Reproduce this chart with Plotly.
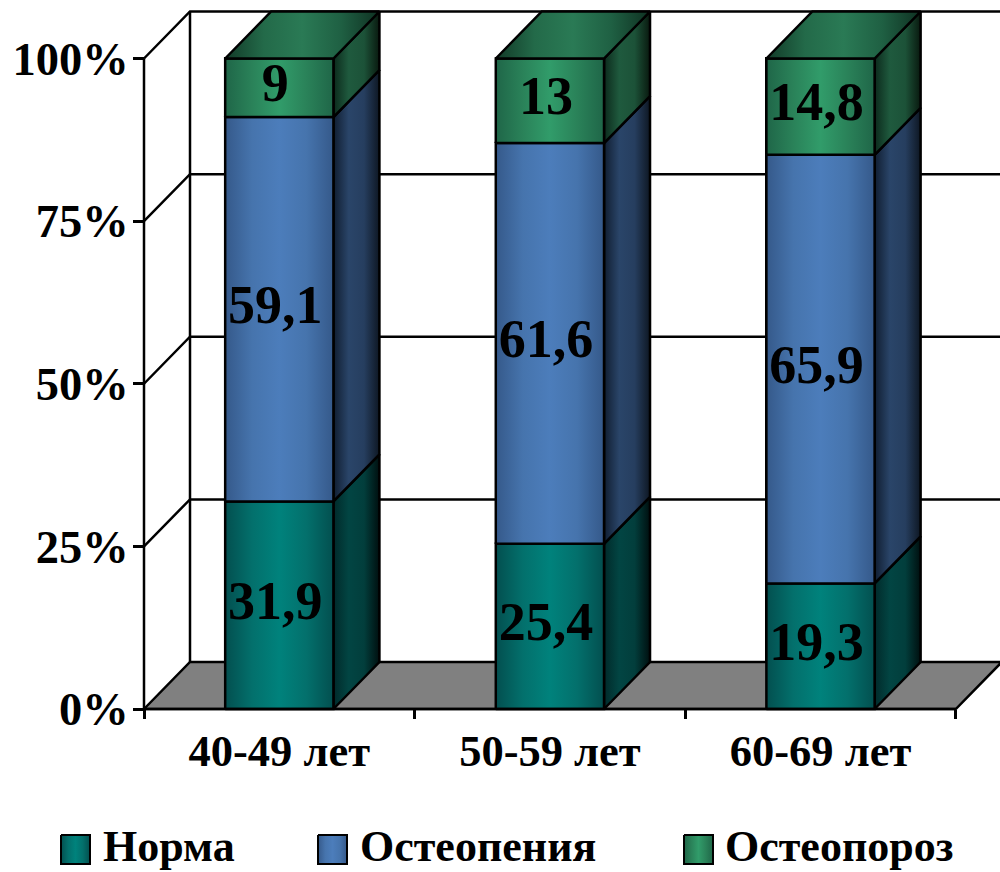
import plotly.graph_objects as go

# Chart data
categories = ["40-49 лет", "50-59 лет", "60-69 лет"]
norma = [31.9, 25.4, 19.3]
osteopenia = [59.1, 61.6, 65.9]
osteoporoz = [9, 13, 14.8]
series_names = ["Норма", "Остеопения", "Остеопороз"]
percent_ticks = [0, 25, 50, 75, 100]
percent_labels = ["0%", "25%", "50%", "75%", "100%"]

# Page geometry in pixels
W, H = 1000, 872
X0_PX, UNIT_X = 144.0, 270.6    # left end of the category axis, pixels per category
Y0_PX, UNIT_Y = 709.0, 6.505    # baseline, pixels per percentage point
BAR_W = 0.4
DX = 46 / UNIT_X                # oblique depth of the box, horizontal
DY = 47 / UNIT_Y                # oblique depth of the box, vertical
LEFT = -0.5
RIGHT = 2.5
FONT = "Liberation Serif"
LW = 2.5
LABEL_SHIFT = -4 / UNIT_X       # value labels sit slightly left of the column centre


def px_x(p):
    return LEFT + (p - X0_PX) / UNIT_X


def px_y(p):
    return (Y0_PX - p) / UNIT_Y


def ramp(*colors):
    n = len(colors) - 1
    return [[i / n, c] for i, c in enumerate(colors)]


front_ramps = [
    ramp("#034f4f", "#03706c", "#00827c", "#03706c", "#034f4f"),
    ramp("#35598a", "#4674ad", "#4c7dbb", "#4674ad", "#35598a"),
    ramp("#1f6648", "#2a8259", "#319c6a", "#2a8259", "#1f6648"),
]
side_ramps = [
    ramp("#012a2a", "#024543", "#023e3c", "#000f0f"),
    ramp("#101d30", "#2a4569", "#263e5f", "#0e1723"),
    ramp("#0c2a1c", "#1f5a3e", "#1c5238", "#09190f"),
]
top_ramp = ramp("#123a28", "#236a49", "#2a7a55", "#1f6043", "#0f3122")
solid_colors = ["#00827c", "#4c7dbb", "#319c6a"]

fig = go.Figure()
values = [norma, osteopenia, osteoporoz]


def polygon(xs, ys, colorscale=None, solid=None, width=LW):
    style = dict(
        x=xs + xs[:1], y=ys + ys[:1], mode="lines", fill="toself",
        line=dict(color="black", width=width), hoverinfo="skip", showlegend=False,
    )
    if colorscale:
        style["fillgradient"] = dict(type="horizontal", colorscale=colorscale)
    else:
        style["fillcolor"] = solid
    fig.add_trace(go.Scatter(**style))


def wire(xs, ys):
    fig.add_trace(go.Scatter(
        x=xs, y=ys, mode="lines", line=dict(color="black", width=LW),
        hoverinfo="skip", showlegend=False,
    ))


# Stacked columns supply the front faces
for name, vals, color in zip(series_names, values, solid_colors):
    fig.add_trace(go.Bar(
        x=list(range(len(categories))), y=vals, name=name, width=BAR_W,
        marker=dict(color=color, line=dict(color="black", width=LW)),
        showlegend=False,
    ))

# Floor, back wall and side wall of the box
polygon([LEFT, LEFT + DX, RIGHT + DX, RIGHT], [0, DY, DY, 0], solid="#808080")
for tick in percent_ticks[1:]:
    wire([LEFT, LEFT + DX, RIGHT + DX + 0.1], [tick, tick + DY, tick + DY])
wire([LEFT, LEFT], [0, 100])
wire([LEFT + DX, LEFT + DX], [DY, 100 + DY])

# Shaded faces of each column segment, built from the stacked values
for i in range(len(categories)):
    x1, x2 = i - BAR_W / 2, i + BAR_W / 2
    base = 0
    for s, vals in enumerate(values):
        top = base + vals[i]
        polygon([x2, x2 + DX, x2 + DX, x2], [base, base + DY, top + DY, top], side_ramps[s])
        polygon([x1, x2, x2, x1], [base, base, top, top], front_ramps[s])
        base = top
    polygon([x1, x2, x2 + DX, x1 + DX], [base, base, base + DY, base + DY], top_ramp)

# Value labels at the middle of each segment
base = [0] * len(categories)
for vals in values:
    mids = [b + v / 2 for b, v in zip(base, vals)]
    fig.add_trace(go.Scatter(
        x=[i + LABEL_SHIFT for i in range(len(categories))], y=mids, mode="text",
        text=[f"{v:g}".replace(".", ",") for v in vals],
        textposition="middle center",
        textfont=dict(family=FONT, size=54, color="black", weight="bold"),
        hoverinfo="skip", showlegend=False,
    ))
    base = [b + v for b, v in zip(base, vals)]

# Legend: gradient swatches with their captions
legend_swatch_px = [61, 318, 684]
legend_text_px = [101, 358, 723]
annotations = []
for s, name in enumerate(series_names):
    sx = legend_swatch_px[s]
    polygon(
        [px_x(sx), px_x(sx + 29), px_x(sx + 29), px_x(sx)],
        [px_y(835), px_y(835), px_y(864), px_y(864)],
        front_ramps[s], width=2,
    )
    annotations.append(dict(
        x=legend_text_px[s] / W, y=1 - 846 / H, xref="paper", yref="paper",
        text=name, showarrow=False, xanchor="left", yanchor="middle",
        font=dict(family=FONT, size=44, color="black", weight="bold"),
    ))

fig.update_layout(
    width=W, height=H,
    margin=dict(l=0, r=0, t=0, b=0),
    paper_bgcolor="white", plot_bgcolor="white",
    barmode="stack", showlegend=False,
    annotations=annotations,
    xaxis=dict(
        domain=[0, 1], range=[px_x(0), px_x(W)], anchor="free",
        position=1 - Y0_PX / H,
        tickmode="array", tickvals=[0, 1, 2], ticktext=categories,
        ticks="", showgrid=False, zeroline=False, showline=False,
        ticklabelstandoff=11,
        tickfont=dict(family=FONT, size=44.5, color="black", weight="bold"),
        minor=dict(
            tickmode="array", tickvals=[LEFT, 0.5, 1.5, 2.5], ticks="outside",
            ticklen=9, tickwidth=LW, tickcolor="black", showgrid=False,
        ),
    ),
    yaxis=dict(
        domain=[0, 1], range=[px_y(H), px_y(0)], anchor="free",
        position=X0_PX / W,
        tickmode="array", tickvals=percent_ticks, ticktext=percent_labels,
        ticks="outside", ticklen=11, tickwidth=LW, tickcolor="black",
        ticklabelstandoff=-5,
        showgrid=False, zeroline=False, showline=False,
        tickfont=dict(family=FONT, size=46.5, color="black", weight="bold"),
    ),
)

# Front baseline of the box
wire([LEFT, RIGHT], [0, 0])

fig.write_html("out.html")
